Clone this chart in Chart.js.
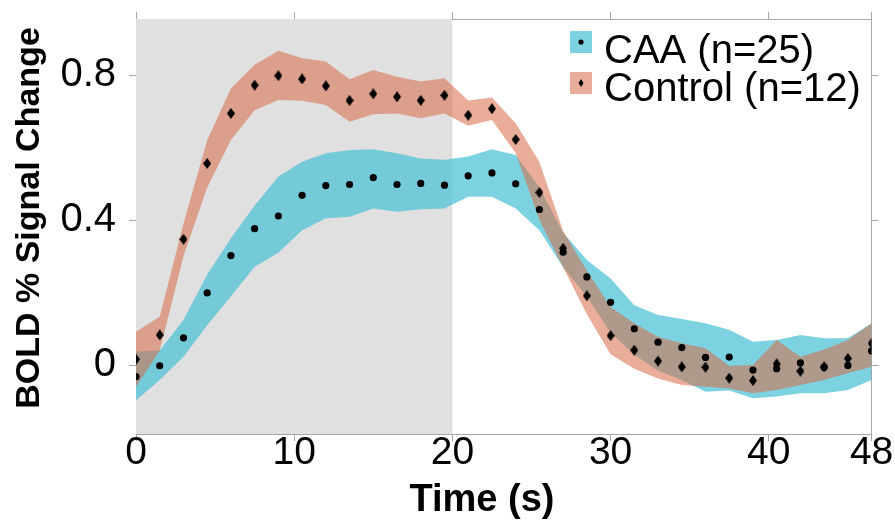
<!DOCTYPE html>
<html>
<head>
<meta charset="utf-8">
<script src="https://cdn.jsdelivr.net/npm/chart.js@4/dist/chart.umd.min.js"></script>
<style>
  html, body { margin: 0; padding: 0; background: #ffffff; }
  #wrap { width: 895px; height: 531px; }
</style>
</head>
<body>
<div id="wrap"><canvas id="bold" width="895" height="531"></canvas></div>
<script>
// Sample times (s), one volume every 1.5 s
const time = [0, 1.5, 3, 4.5, 6, 7.5, 9, 10.5, 12, 13.5, 15, 16.5, 18, 19.5, 21, 22.5,
              24, 25.5, 27, 28.5, 30, 31.5, 33, 34.5, 36, 37.5, 39, 40.5, 42, 43.5, 45, 46.5];

// CAA group: mean BOLD % signal change and band limits
const caaMean  = [-0.032, -0.002, 0.075, 0.199, 0.302, 0.376, 0.411, 0.468, 0.495, 0.498, 0.517, 0.498, 0.501, 0.496, 0.522, 0.530,
                  0.500, 0.429, 0.311, 0.243, 0.173, 0.100, 0.063, 0.048, 0.021, 0.022, -0.014, -0.010, 0.006, -0.006, -0.001, 0.039];
const caaUpper = [0.037, 0.040, 0.124, 0.250, 0.350, 0.440, 0.520, 0.561, 0.584, 0.593, 0.595, 0.584, 0.570, 0.566, 0.575, 0.595,
                  0.579, 0.490, 0.365, 0.290, 0.239, 0.165, 0.138, 0.127, 0.115, 0.097, 0.064, 0.069, 0.083, 0.074, 0.074, 0.115];
const caaLower = [-0.097, -0.041, 0.023, 0.110, 0.190, 0.271, 0.310, 0.372, 0.405, 0.409, 0.432, 0.423, 0.430, 0.432, 0.464, 0.464,
                  0.432, 0.372, 0.270, 0.190, 0.090, 0.028, -0.015, -0.041, -0.074, -0.070, -0.092, -0.087, -0.078, -0.078, -0.069, -0.041];

// Control group
const ctlMean  = [0.016, 0.083, 0.347, 0.556, 0.694, 0.772, 0.798, 0.789, 0.770, 0.730, 0.748, 0.740, 0.730, 0.744, 0.689, 0.707,
                  0.622, 0.476, 0.322, 0.191, 0.081, 0.041, 0.011, -0.005, -0.006, -0.036, -0.043, 0.003, -0.017, -0.005, 0.018, 0.060];
const ctlUpper = [0.092, 0.133, 0.390, 0.620, 0.763, 0.828, 0.867, 0.846, 0.837, 0.788, 0.814, 0.795, 0.782, 0.791, 0.730, 0.738,
                  0.667, 0.560, 0.370, 0.260, 0.160, 0.115, 0.078, 0.060, 0.046, -0.003, 0.000, 0.069, 0.023, 0.043, 0.069, 0.115];
const ctlLower = [-0.060, 0.040, 0.300, 0.490, 0.621, 0.703, 0.731, 0.729, 0.717, 0.671, 0.692, 0.694, 0.681, 0.694, 0.660, 0.676,
                  0.585, 0.400, 0.270, 0.140, 0.030, -0.010, -0.037, -0.055, -0.060, -0.065, -0.078, -0.069, -0.055, -0.041, -0.023, -0.005];

// Axis ticks
const xTickValues = [0, 10, 20, 30, 40, 46.5];
const xTickLabels = ['0', '10', '20', '30', '40', '48'];
const yTickValues = [0, 0.4, 0.8];
const yTickLabels = ['0', '0.4', '0.8'];

// Stimulus block (s)
const stimWindow = [0, 20];

const seriesNames = ['CAA (n=25)', 'Control (n=12)'];

const FONT = "'Liberation Sans', Arial, Helvetica, sans-serif";
const TEAL = 'rgba(80, 195, 215, 0.75)';
const SALMON = 'rgba(215, 105, 70, 0.55)';
const AXIS = '#a6a6a6';

function pts(ys) { return time.map((t, i) => ({ x: t, y: ys[i] })); }

function diamondMarker(w, h) {
  const c = document.createElement('canvas');
  c.width = w; c.height = h;
  const g = c.getContext('2d');
  g.fillStyle = '#000';
  g.beginPath();
  g.moveTo(w / 2, 0); g.lineTo(w, h / 2); g.lineTo(w / 2, h); g.lineTo(0, h / 2);
  g.closePath(); g.fill();
  return c;
}
const diamond = diamondMarker(8, 11);

// Grey stimulus period behind the data
const stimShade = {
  id: 'stimShade',
  beforeDatasetsDraw(chart) {
    const { ctx, chartArea: a, scales: { x } } = chart;
    const x0 = x.getPixelForValue(stimWindow[0]);
    const x1 = x.getPixelForValue(stimWindow[1]);
    ctx.save();
    ctx.fillStyle = '#e0e0e0';
    ctx.fillRect(x0, a.top, x1 - x0, a.bottom - a.top);
    ctx.restore();
  }
};

// Axis titles and in-plot legend
const decorations = {
  id: 'decorations',
  afterDraw(chart) {
    const { ctx } = chart;
    ctx.save();
    ctx.fillStyle = '#000';
    // y title
    ctx.font = `bold 34px ${FONT}`;
    ctx.textAlign = 'center';
    ctx.textBaseline = 'middle';
    ctx.translate(30, 218);
    ctx.rotate(-Math.PI / 2);
    ctx.fillText('BOLD % Signal Change', 0, 0);
    ctx.setTransform(1, 0, 0, 1, 0, 0);
    // x title
    ctx.font = `bold 38px ${FONT}`;
    ctx.textBaseline = 'alphabetic';
    ctx.fillText('Time (s)', 482, 511);

    // legend
    const rows = [
      { name: seriesNames[0], color: TEAL, marker: 'dot', boxY: 31, base: 63 },
      { name: seriesNames[1], color: SALMON, marker: 'diamond', boxY: 72, base: 101 }
    ];
    ctx.textAlign = 'left';
    ctx.font = `40px ${FONT}`;
    rows.forEach(r => {
      ctx.fillStyle = r.color;
      ctx.fillRect(570, r.boxY, 22, 22);
      ctx.fillStyle = '#000';
      const cx = 581, cy = r.boxY + 11;
      ctx.beginPath();
      if (r.marker === 'dot') {
        ctx.arc(cx, cy, 2.6, 0, Math.PI * 2);
      } else {
        ctx.moveTo(cx, cy - 4); ctx.lineTo(cx + 2.5, cy); ctx.lineTo(cx, cy + 4); ctx.lineTo(cx - 2.5, cy);
        ctx.closePath();
      }
      ctx.fill();
      ctx.fillText(r.name, 604, r.base);
    });
    ctx.restore();
  }
};

const tickGrid = { drawOnChartArea: false, drawTicks: true, tickLength: 7, color: AXIS, lineWidth: 1 };
const border = { display: true, color: AXIS, width: 1 };

// fixed axis boxes so the plot area sits where it should
function fixH(h) { return s => { s.height = h; s.paddingLeft = 0; s.paddingRight = 0; }; }
function fixW(w) { return s => { s.width = w; s.paddingTop = 0; s.paddingBottom = 0; }; }

new Chart(document.getElementById('bold'), {
  type: 'line',
  data: {
    datasets: [
      { label: 'CAA upper', data: pts(caaUpper), fill: '+1', backgroundColor: TEAL,
        borderColor: 'transparent', borderWidth: 0, pointRadius: 0, tension: 0, order: 3 },
      { label: 'CAA lower', data: pts(caaLower), fill: false,
        borderColor: 'transparent', borderWidth: 0, pointRadius: 0, tension: 0, order: 3 },
      { label: 'Control upper', data: pts(ctlUpper), fill: '+1', backgroundColor: SALMON,
        borderColor: 'transparent', borderWidth: 0, pointRadius: 0, tension: 0, order: 2 },
      { label: 'Control lower', data: pts(ctlLower), fill: false,
        borderColor: 'transparent', borderWidth: 0, pointRadius: 0, tension: 0, order: 2 },
      { label: seriesNames[0], data: pts(caaMean), showLine: false, pointStyle: 'circle',
        pointRadius: 3.6, pointBackgroundColor: '#000', pointBorderWidth: 0, order: 1 },
      { label: seriesNames[1], data: pts(ctlMean), showLine: false, pointStyle: diamond,
        pointRadius: 4, pointBackgroundColor: '#000', pointBorderWidth: 0, order: 0 }
    ]
  },
  options: {
    responsive: false,
    animation: false,
    devicePixelRatio: 1,
    layout: { padding: 0 },
    plugins: { legend: { display: false }, tooltip: { enabled: false } },
    scales: {
      x: {
        type: 'linear', position: 'bottom', min: 0, max: 46.5,
        afterBuildTicks: s => { s.ticks = xTickValues.map(v => ({ value: v })); },
        afterFit: fixH(97),
        grid: tickGrid, border,
        ticks: { color: '#000', font: { family: FONT, size: 39 }, padding: -11, maxRotation: 0, autoSkip: false,
                 callback: (v, i) => xTickLabels[i] }
      },
      xTop: {
        type: 'linear', position: 'top', min: 0, max: 46.5,
        afterBuildTicks: s => { s.ticks = xTickValues.map(v => ({ value: v })); },
        afterFit: fixH(19),
        grid: tickGrid, border, ticks: { display: false }
      },
      y: {
        type: 'linear', position: 'left', min: -0.1903, max: 0.9545,
        afterBuildTicks: s => { s.ticks = yTickValues.map(v => ({ value: v })); },
        afterFit: fixW(136),
        grid: tickGrid, border,
        ticks: { color: '#000', font: { family: FONT, size: 40 }, padding: 13,
                 callback: (v, i) => yTickLabels[i] }
      },
      yRight: {
        type: 'linear', position: 'right', min: -0.1903, max: 0.9545,
        afterBuildTicks: s => { s.ticks = yTickValues.map(v => ({ value: v })); },
        afterFit: fixW(23.4),
        grid: tickGrid, border, ticks: { display: false }
      }
    }
  },
  plugins: [stimShade, decorations]
});
</script>
</body>
</html>
